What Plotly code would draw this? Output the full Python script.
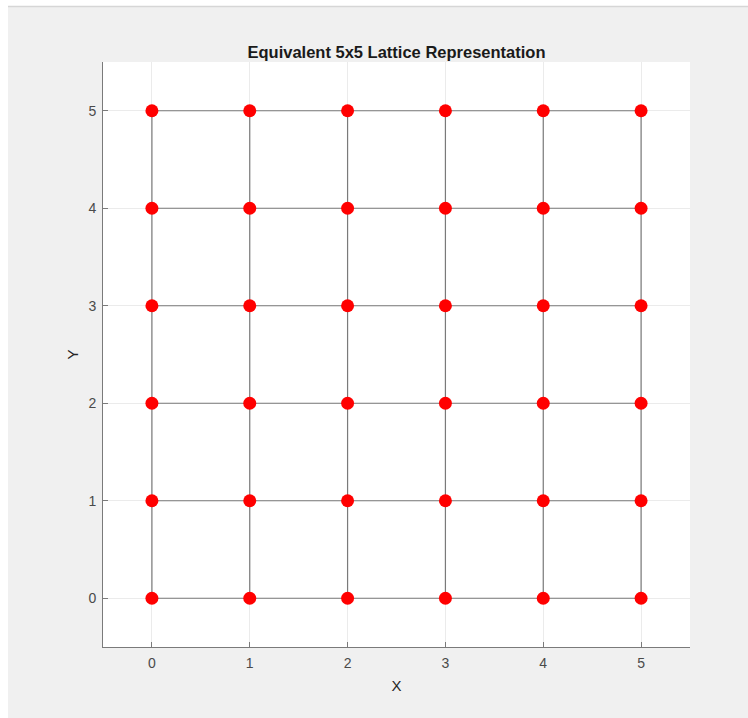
import plotly.graph_objects as go

# Lattice node coordinates (5x5 cells -> 6x6 nodes)
x_nodes = [0, 1, 2, 3, 4, 5]
y_nodes = [0, 1, 2, 3, 4, 5]
tick_vals = [0, 1, 2, 3, 4, 5]
tick_text = ["0", "1", "2", "3", "4", "5"]

W, H = 748, 718
ML, MR, MT, MB = 103, 58, 62, 71
PW, PH = W - ML - MR, H - MT - MB
FONT = "Liberation Sans, Arial, sans-serif"

# Edge segments: horizontal rows and vertical columns, separated by None
ex, ey = [], []
for y in y_nodes:
    ex += [x_nodes[0], x_nodes[-1], None]
    ey += [y, y, None]
for x in x_nodes:
    ex += [x, x, None]
    ey += [y_nodes[0], y_nodes[-1], None]

px = [x for y in y_nodes for x in x_nodes]
py = [y for y in y_nodes for x in x_nodes]

fig = go.Figure()
fig.add_trace(go.Scatter(x=ex, y=ey, mode="lines",
                         line=dict(color="#7a7a7a", width=1.2),
                         hoverinfo="skip", showlegend=False))
fig.add_trace(go.Scatter(x=px, y=py, mode="markers",
                         marker=dict(color="#ff0000", size=13, line=dict(width=0)),
                         showlegend=False))

axis_common = dict(
    range=[-0.5, 5.5], tickvals=tick_vals, ticktext=tick_text,
    showgrid=True, gridcolor="#ebebeb", gridwidth=1,
    zeroline=False, showline=True, linecolor="#7a7a7a", linewidth=1,
    ticks="inside", ticklen=5, tickcolor="#7a7a7a", tickwidth=1,
    tickfont=dict(family=FONT, size=14, color="#4a4a4a"),
    ticklabelstandoff=3,
    fixedrange=True,
)

fig.update_layout(
    width=W, height=H,
    margin=dict(l=ML, r=MR, t=MT, b=MB),
    paper_bgcolor="#f0f0f0", plot_bgcolor="#ffffff",
    title=dict(text="<b>Equivalent 5x5 Lattice Representation</b>",
               x=0.5, xref="paper", xanchor="center",
               y=1 - 52 / H, yref="container", yanchor="middle",
               font=dict(family=FONT, size=16.5, color="#1a1a1a")),
    xaxis=dict(**axis_common, title=dict(text="X", standoff=10,
               font=dict(family=FONT, size=15, color="#262626"))),
    yaxis=dict(**axis_common, title=dict(text="Y", standoff=6,
               font=dict(family=FONT, size=15, color="#262626"))),
    shapes=[
        # white window strip on the left and top edges
        dict(type="rect", xref="paper", yref="paper", layer="above",
             x0=-ML / PW, x1=(-ML + 8) / PW, y0=-MB / PH, y1=1 + MT / PH,
             fillcolor="#ffffff", line=dict(width=0)),
        dict(type="rect", xref="paper", yref="paper", layer="above",
             x0=-ML / PW, x1=1 + MR / PW, y0=1 + (MT - 6) / PH, y1=1 + MT / PH,
             fillcolor="#ffffff", line=dict(width=0)),
        dict(type="line", xref="paper", yref="paper", layer="above",
             x0=(-ML + 8) / PW, x1=1 + MR / PW,
             y0=1 + (MT - 6.5) / PH, y1=1 + (MT - 6.5) / PH,
             line=dict(color="#d6d6d6", width=1.5)),
    ],
)

fig.write_html("out.html")
